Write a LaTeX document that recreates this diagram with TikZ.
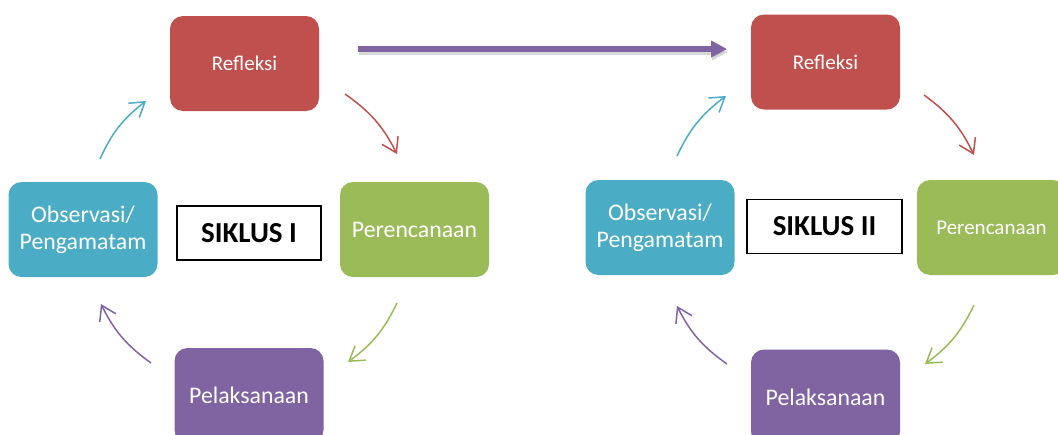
\documentclass[tikz,border=0pt]{standalone}
\usepackage{fontspec}
\setmainfont{Carlito}
\definecolor{siklusRed}{HTML}{C0504D}
\definecolor{siklusGreen}{HTML}{9BBB59}
\definecolor{siklusBlue}{HTML}{4BACC6}
\definecolor{siklusPurple}{HTML}{8064A2}
\usetikzlibrary{arrows.meta, positioning}

\begin{document}
\begin{tikzpicture}[
    x=1pt, y=1pt,
    phase/.style={
      rounded corners=13pt,
      minimum width=149pt,
      minimum height=95pt,
      text=white,
      align=center,
      inner sep=0pt,
      font=\fontsize{23.8}{27}\selectfont,
    },
    smalltext/.style={font=\fontsize{21}{25}\selectfont},
    cyclelabel/.style={
      draw=black,
      fill=white,
      line width=1.6pt,
      minimum height=54pt,
      inner sep=0pt,
      font=\bfseries\fontsize{29}{33}\selectfont,
    },
    turn/.style={-{Straight Barb[length=14pt,width=18pt]}, line width=1.5pt, bend left=14},
    bigarr/.style={-{Triangle[length=16pt,width=16pt]}, line width=5.5pt},
  ]
  \useasboundingbox (0,0) rectangle (1058,-434);
  \clip (0,0) rectangle (1058,-434);

  % siklus I
  \node[phase, fill=siklusRed, smalltext] (refA) at (244.5,-63.5) {Refleksi};
  \node[phase, fill=siklusGreen] (planA) at (414.5,-229.5) {Perencanaan};
  \node[phase, fill=siklusPurple] (actA) at (249,-395.5) {Pelaksanaan};
  \node[phase, fill=siklusBlue] (obsA) at (83,-229.5) {Observasi/\\Pengamatam};
  \node[cyclelabel, minimum width=144pt] (cycA) at (249,-233) {SIKLUS I};

  % siklus II
  \node[phase, fill=siklusRed, smalltext] (refB) at (825.5,-62) {Refleksi};
  \node[phase, fill=siklusGreen, smalltext] (planB) at (991.5,-227.5) {Perencanaan};
  \node[phase, fill=siklusPurple] (actB) at (825.5,-397) {Pelaksanaan};
  \node[phase, fill=siklusBlue] (obsB) at (660,-227.5) {Observasi/\\Pengamatam};
  \node[cyclelabel, minimum width=155pt] (cycB) at (824.5,-226.5) {SIKLUS II};

  % arrow ends
  \coordinate (rA1) at (345,-94);  \coordinate (rA2) at (397,-154);
  \coordinate (gA1) at (397,-303); \coordinate (gA2) at (348,-362);
  \coordinate (pA1) at (151,-363); \coordinate (pA2) at (101,-304);
  \coordinate (bA1) at (100,-159); \coordinate (bA2) at (146,-101);
  \coordinate (rB1) at (924,-95);  \coordinate (rB2) at (974,-155);
  \coordinate (gB1) at (974,-305); \coordinate (gB2) at (925,-364);
  \coordinate (pB1) at (727,-364); \coordinate (pB2) at (677,-306);
  \coordinate (bB1) at (677,-156); \coordinate (bB2) at (726,-96);
  \coordinate (runS) at (358,-49); \coordinate (runE) at (727,-49);

  \draw[turn, siklusRed] (rA1) to (rA2);
  \draw[turn, siklusGreen] (gA1) to (gA2);
  \draw[turn, siklusPurple] (pA1) to (pA2);
  \draw[turn, siklusBlue] (bA1) to (bA2);

  \draw[turn, siklusRed] (rB1) to (rB2);
  \draw[turn, siklusGreen] (gB1) to (gB2);
  \draw[turn, siklusPurple] (pB1) to (pB2);
  \draw[turn, siklusBlue] (bB1) to (bB2);

  % from siklus I to siklus II
  \draw[bigarr, black!30, opacity=0.5] ([shift={(1pt,-3pt)}]runS) -- ([shift={(1pt,-3pt)}]runE);
  \draw[bigarr, siklusPurple] (runS) -- (runE);
\end{tikzpicture}
\end{document}
